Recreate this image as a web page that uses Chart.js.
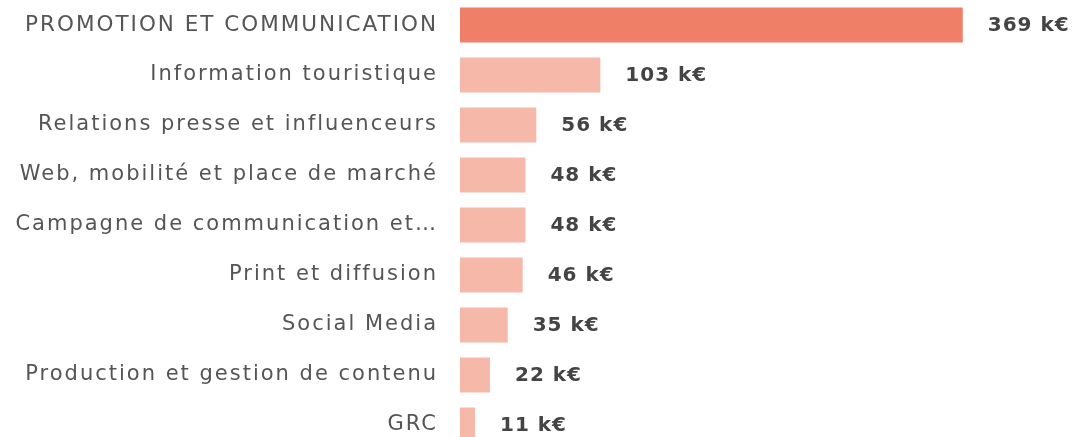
<!DOCTYPE html>
<html><head><meta charset="utf-8">
<script src="https://cdn.jsdelivr.net/npm/chart.js@4"></script>
<style>html,body{margin:0;padding:0;overflow:hidden;background:#fff;width:1075px;height:437px}
canvas{position:absolute;left:0;top:0}</style>
</head><body><canvas id="c" width="1075" height="450"></canvas>
<script>
const categories = ["PROMOTION ET COMMUNICATION","Information touristique","Relations presse et influenceurs","Web, mobilité et place de marché","Campagne de communication et…","Print et diffusion","Social Media","Production et gestion de contenu","GRC"];
const values = [369,103,56,48,48,46,35,22,11];
const valueLabels = ["369 k€","103 k€","56 k€","48 k€","48 k€","46 k€","35 k€","22 k€","11 k€"];
const barColors = ["#F07F67","#F6B8A8","#F6B8A8","#F6B8A8","#F6B8A8","#F6B8A8","#F6B8A8","#F6B8A8","#F6B8A8"];
const FONT = "'DejaVu Sans', sans-serif";
const valuePlugin = {
  id:'vals',
  beforeDraw(chart){ chart.ctx.letterSpacing = '2px'; },
  afterDatasetsDraw(chart){
    const ctx = chart.ctx; const meta = chart.getDatasetMeta(0);
    ctx.save(); ctx.letterSpacing='1px'; ctx.font = "bold 20px " + FONT; ctx.fillStyle="#444"; ctx.textBaseline="middle"; ctx.textAlign="left";
    meta.data.forEach((b,i)=>{ ctx.fillText(valueLabels[i], b.x+25, b.y+1); });
    ctx.restore();
  }
};
new Chart(document.getElementById('c'),{
  type:'bar',
  data:{labels:categories,datasets:[{data:values,backgroundColor:barColors,barPercentage:0.7,categoryPercentage:1.0}]},
  options:{indexAxis:'y',responsive:false,animation:false,devicePixelRatio:1,
    layout:{padding:{left:0,right:70,top:0,bottom:0}},
    plugins:{legend:{display:false},tooltip:{enabled:false}},
    scales:{
      x:{display:false,min:0,max:400},
      y:{grid:{display:false},border:{display:false},
         ticks:{color:"#555",font:(c)=>({family:FONT,size:c.index===0?21.5:21}),padding:14,autoSkip:false},
         afterFit(s){s.width=460;s.paddingTop=0;s.paddingBottom=0;}}
    }
  },
  plugins:[valuePlugin]
});
</script></body></html>
